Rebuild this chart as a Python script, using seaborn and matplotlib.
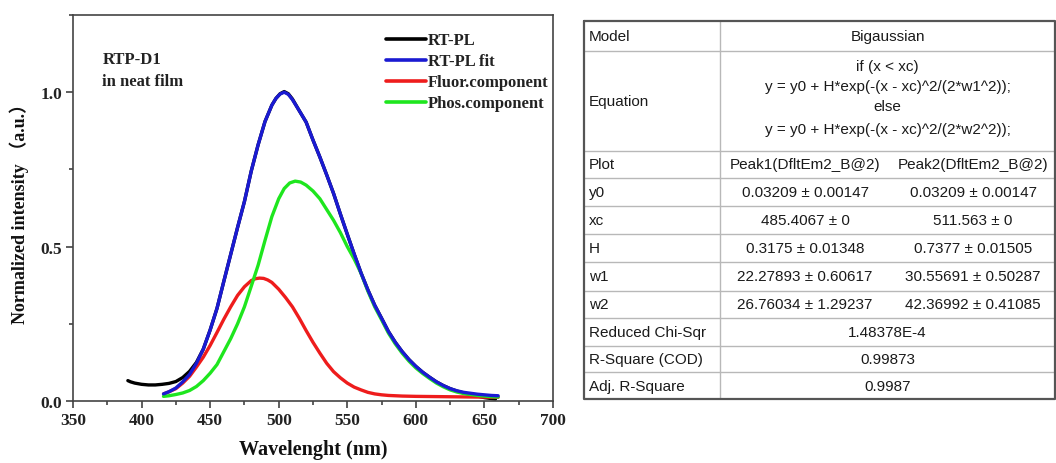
import numpy as np
import pandas as pd
import matplotlib
matplotlib.use("Agg")
import matplotlib.pyplot as plt
from matplotlib import font_manager as fm
from matplotlib.ticker import MultipleLocator
from matplotlib.lines import Line2D
import seaborn as sns

# ---------------- data ----------------
rtpl_x = [390, 392, 395, 400, 405, 410, 415, 420, 425, 430, 435, 440, 445, 450, 455, 460,
          465, 470, 475, 480, 485, 490, 495, 498, 501, 504, 507, 510, 515, 520, 525, 530,
          535, 540, 545, 550, 555, 560, 565, 570, 575, 580, 585, 590, 595, 600, 605, 610,
          615, 620, 625, 630, 635, 640, 645, 650, 655, 658]
rtpl_y = [0.066, 0.062, 0.058, 0.054, 0.052, 0.052, 0.054, 0.057, 0.063, 0.076, 0.096, 0.125,
          0.168, 0.230, 0.300, 0.388, 0.475, 0.562, 0.646, 0.745, 0.830, 0.905, 0.958, 0.980,
          0.995, 1.002, 0.995, 0.978, 0.940, 0.903, 0.845, 0.790, 0.732, 0.672, 0.605, 0.540,
          0.476, 0.415, 0.360, 0.310, 0.268, 0.225, 0.190, 0.160, 0.134, 0.112, 0.093, 0.077,
          0.062, 0.050, 0.040, 0.032, 0.026, 0.021, 0.016, 0.011, 0.008, 0.006]

fit_x = [416, 420, 425, 430, 435, 440, 445, 450, 455, 460, 465, 470, 475, 480, 485, 490,
         495, 498, 501, 504, 507, 510, 515, 520, 525, 530, 535, 540, 545, 550, 555, 560,
         565, 570, 575, 580, 585, 590, 595, 600, 605, 610, 615, 620, 625, 630, 635, 640,
         645, 650, 655, 660]
fit_y = [0.023, 0.030, 0.042, 0.062, 0.086, 0.122, 0.168, 0.230, 0.300, 0.388, 0.475, 0.562,
         0.646, 0.745, 0.830, 0.905, 0.958, 0.980, 0.994, 1.000, 0.993, 0.976, 0.940, 0.903,
         0.845, 0.790, 0.732, 0.672, 0.605, 0.540, 0.476, 0.415, 0.360, 0.310, 0.268, 0.225,
         0.190, 0.160, 0.134, 0.112, 0.093, 0.077, 0.062, 0.050, 0.040, 0.033, 0.028, 0.025,
         0.022, 0.020, 0.018, 0.017]

fluor_x = [416, 420, 425, 430, 435, 440, 445, 450, 455, 460, 465, 470, 475, 480, 483, 486,
           489, 492, 495, 500, 505, 510, 515, 520, 525, 530, 535, 540, 545, 550, 555, 560,
           565, 570, 575, 580, 590, 600, 620, 640, 660]
fluor_y = [0.023, 0.030, 0.040, 0.058, 0.080, 0.110, 0.142, 0.180, 0.222, 0.265, 0.305, 0.342,
           0.370, 0.390, 0.396, 0.398, 0.397, 0.392, 0.384, 0.362, 0.335, 0.305, 0.268, 0.228,
           0.190, 0.155, 0.122, 0.095, 0.075, 0.058, 0.045, 0.036, 0.028, 0.023, 0.020, 0.018,
           0.016, 0.015, 0.014, 0.013, 0.012]

phos_x = [416, 420, 425, 430, 435, 440, 445, 450, 455, 460, 465, 470, 475, 480, 485, 490,
          495, 500, 504, 508, 512, 516, 520, 525, 530, 535, 540, 545, 550, 555, 560, 565,
          570, 575, 580, 585, 590, 595, 600, 605, 610, 615, 620, 625, 630, 635, 640, 645,
          650, 655, 660]
phos_y = [0.015, 0.017, 0.021, 0.026, 0.034, 0.047, 0.066, 0.090, 0.118, 0.160, 0.202, 0.250,
          0.305, 0.372, 0.440, 0.520, 0.597, 0.655, 0.688, 0.706, 0.712, 0.709, 0.699, 0.680,
          0.655, 0.620, 0.585, 0.545, 0.500, 0.460, 0.414, 0.356, 0.305, 0.263, 0.220, 0.185,
          0.155, 0.129, 0.107, 0.089, 0.073, 0.058, 0.046, 0.036, 0.029, 0.024, 0.021, 0.018,
          0.016, 0.014, 0.013]

series_names = ["RT-PL", "RT-PL fit", "Fluor.component", "Phos.component"]
series_colors = ["#000000", "#1a1ad2", "#ee1c1c", "#1ee61e"]

x_ticks = [350, 400, 450, 500, 550, 600, 650, 700]
y_ticks = [0.0, 0.5, 1.0]

# table content
row_labels = ["Model", "Equation", "Plot", "y0", "xc", "H", "w1", "w2",
              "Reduced Chi-Sqr", "R-Square (COD)", "Adj. R-Square"]
model_text = "Bigaussian"
equation_lines = ["if (x < xc)",
                  "y = y0 + H*exp(-(x - xc)^2/(2*w1^2));",
                  "else",
                  "y = y0 + H*exp(-(x - xc)^2/(2*w2^2));"]
peak1_col = ["Peak1(DfltEm2_B@2)", "0.03209 \u00b1 0.00147", "485.4067 \u00b1 0",
             "0.3175 \u00b1 0.01348", "22.27893 \u00b1 0.60617", "26.76034 \u00b1 1.29237"]
peak2_col = ["Peak2(DfltEm2_B@2)", "0.03209 \u00b1 0.00147", "511.563 \u00b1 0",
             "0.7377 \u00b1 0.01505", "30.55691 \u00b1 0.50287", "42.36992 \u00b1 0.41085"]
stats_col = ["1.48378E-4", "0.99873", "0.9987"]

# ---------------- style ----------------
sns.set_theme(style="white")
plt.rcParams["font.family"] = ["Liberation Serif", "DejaVu Serif"]

W, H = 1056, 464
fig = plt.figure(figsize=(W / 100, H / 100), dpi=100)

ax = fig.add_axes([73 / W, (H - 402) / H, (553 - 73) / W, (402 - 16) / H])

frames = []
for name, xs, ys in [("RT-PL", rtpl_x, rtpl_y), ("RT-PL fit", fit_x, fit_y),
                     ("Fluor.component", fluor_x, fluor_y), ("Phos.component", phos_x, phos_y)]:
    frames.append(pd.DataFrame({"Wavelength": xs, "Intensity": ys, "Series": name}))
df = pd.concat(frames, ignore_index=True)

pal = dict(zip(series_names, series_colors))
draw_order = ["RT-PL", "Fluor.component", "Phos.component", "RT-PL fit"]
for i, name in enumerate(draw_order):
    sub = df[df["Series"] == name]
    sns.lineplot(data=sub, x="Wavelength", y="Intensity", color=pal[name], lw=2.4,
                 ax=ax, legend=False, zorder=2 + i, sort=False)

ax.set_xlim(350, 700)
ax.set_ylim(0, 1.25)
ax.set_xticks(x_ticks)
ax.set_yticks(y_ticks)
ax.set_yticklabels([f"{v:.1f}" for v in y_ticks])
ax.xaxis.set_minor_locator(MultipleLocator(25))
ax.yaxis.set_minor_locator(MultipleLocator(0.25))
ax.tick_params(axis="both", which="both", direction="out", bottom=True, left=True,
               top=False, right=False, color="#333333", width=1.1)
ax.tick_params(which="major", length=5, labelsize=12.5, pad=3)
ax.tick_params(which="minor", length=3)
for lab in ax.get_xticklabels() + ax.get_yticklabels():
    lab.set_fontweight("bold")
    lab.set_color("#222222")
for sp in ax.spines.values():
    sp.set_color("#444444")
    sp.set_linewidth(1.2)

ax.set_xlabel("Wavelenght (nm)", fontsize=14.5, fontweight="bold", color="#111111", labelpad=8)
ax.set_ylabel("Normalized intensity \uff08a.u.\uff09", fontsize=13, fontweight="bold",
              color="#111111", labelpad=8,
              fontfamily=["Liberation Serif", "Noto Sans CJK SC"])

ax.text(371.5, 1.107, "RTP-D1", fontsize=12, fontweight="bold", va="center", ha="left",
        color="#222222")
ax.text(371.5, 1.037, "in neat film", fontsize=12, fontweight="bold", va="center", ha="left",
        color="#222222")

handles = [Line2D([], [], color=pal[n], lw=2.6) for n in series_names]
leg = ax.legend(handles, series_names, loc="upper left", bbox_to_anchor=(0.652, 0.955),
                frameon=False, fontsize=12, handlelength=2.4, handletextpad=0.1,
                labelspacing=0.3, borderpad=0, borderaxespad=0)
for t in leg.get_texts():
    t.set_fontweight("bold")
    t.set_color("#222222")

# ---------------- table ----------------
names = {f.name for f in fm.fontManager.ttflist}
if "Liberation Sans Narrow" in names:
    tfam, tsize = ["Liberation Sans Narrow", "DejaVu Sans"], 12.5
else:
    tfam, tsize = ["Liberation Sans", "DejaVu Sans"], 11

tx0, tx1, ty0, ty1 = 584, 1055, 22.5, 400
tax = fig.add_axes([tx0 / W, (H - ty1) / H, (tx1 - tx0) / W, (ty1 - ty0) / H])
tax.set_xlim(tx0, tx1)
tax.set_ylim(ty1, ty0)
tax.axis("off")

row_edges = [22.5, 51.7, 151.7, 179.3, 206.7, 235, 262.7, 291.7, 319.3, 346.7, 373.3, 400]
col1 = 720
line_c = "#b8b8b8"
for y in row_edges[1:-1]:
    tax.plot([tx0, tx1], [y, y], color=line_c, lw=1.0, solid_capstyle="butt")
tax.plot([col1, col1], [ty0, ty1], color=line_c, lw=1.0)
tax.plot([tx0, tx1, tx1, tx0, tx0], [ty0, ty0, ty1, ty1, ty0], color="#555555", lw=1.6,
         clip_on=False)

tcol = "#1a1a1a"
kw = dict(fontsize=tsize, family=tfam, fontweight="normal", va="center", color=tcol)
for i, lab in enumerate(row_labels):
    yc = (row_edges[i] + row_edges[i + 1]) / 2
    tax.text(589, yc, lab, ha="left", **kw)

center23 = (col1 + tx1) / 2
tax.text(center23, (row_edges[0] + row_edges[1]) / 2, model_text, ha="center", **kw)
eq_y = [66.7, 86.7, 107, 130]
for y, s in zip(eq_y, equation_lines):
    tax.text(center23, y, s, ha="center", **kw)

c1, c2 = 805, 973
for k in range(6):
    yc = (row_edges[2 + k] + row_edges[3 + k]) / 2
    tax.text(c1, yc, peak1_col[k], ha="center", **kw)
    tax.text(c2, yc, peak2_col[k], ha="center", **kw)
for k in range(3):
    yc = (row_edges[8 + k] + row_edges[9 + k]) / 2
    tax.text(center23, yc, stats_col[k], ha="center", **kw)

fig.savefig("out.png", dpi=100, facecolor="white")
